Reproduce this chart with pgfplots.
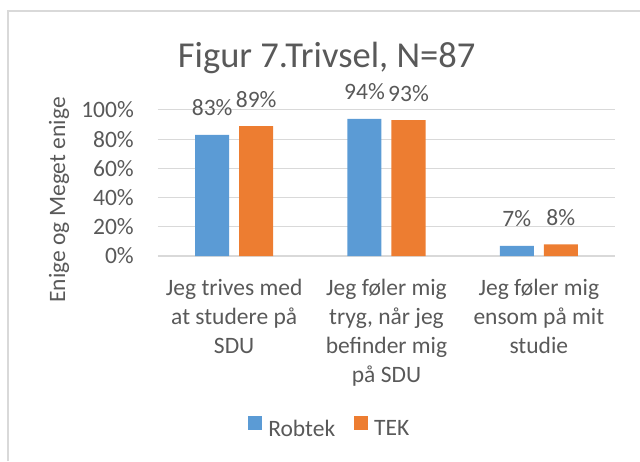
\documentclass[border=0pt]{standalone}
\usepackage{fontspec}
\setmainfont{Carlito}
\usepackage{pgfplots}
\pgfplotsset{compat=1.18}
\definecolor{robtek}{HTML}{5B9BD5}
\definecolor{tek}{HTML}{ED7D31}
\definecolor{txt}{HTML}{595959}
\definecolor{grd}{HTML}{D9D9D9}

\begin{document}
\begin{tikzpicture}
\begin{axis}[
    width=457pt,
    height=146pt,
    scale only axis,
    ybar=10pt,
    bar width=34pt,
    xmin=-0.5, xmax=2.5,
    ymin=0, ymax=100,
    xtick={0,1,2},
    xticklabels={
        {Jeg trives med\\at studere på\\SDU},
        {Jeg føler mig\\tryg, når jeg\\befinder mig\\på SDU},
        {Jeg føler mig\\ensom på mit\\studie}
    },
    ytick={0,20,40,60,80,100},
    yticklabel={\pgfmathprintnumber{\tick}\%},
    /pgf/number format/assume math mode=true,
    /pgf/number format/fixed,
    /pgf/number format/precision=0,
    ymajorgrids,
    grid style={draw=grd, line width=1pt},
    axis x line*=bottom,
    axis y line*=left,
    x axis line style={draw=grd, line width=1.5pt},
    y axis line style={draw=none},
    major tick style={draw=none},
    major tick length=0pt,
    yticklabel style={font=\fontsize{23.5}{28}\selectfont, text=txt, inner sep=0pt, xshift=-24pt},
    xticklabel style={font=\fontsize{23.5}{29}\selectfont, text=txt, align=center, inner sep=0pt, anchor=north, yshift=-23pt},
    nodes near coords={\pgfmathprintnumber{\pgfplotspointmeta}\%},
    every node near coord/.append style={font=\fontsize{23.5}{28}\selectfont, text=txt, anchor=base, inner sep=0pt, yshift=19pt},
    legend columns=2,
    legend image code/.code={\fill[#1] (0pt,-0.5pt) rectangle (14pt,13pt);},
    legend style={
        draw=none,
        fill=none,
        at={(axis description cs:0.376,-1.178)},
        anchor=center,
        font=\fontsize{23.5}{28}\selectfont,
        text=txt,
        /tikz/every odd column/.append style={column sep=4pt},
        /tikz/every even column/.append style={column sep=17pt},
    },
    clip=false,
]
    \addplot[draw=none, fill=robtek] coordinates {(0,83) (1,94) (2,7)};
    \addlegendentry{Robtek}
    \addplot[draw=none, fill=tek] coordinates {(0,89) (1,93) (2,8)};
    \addlegendentry{TEK}

    \node[anchor=base, font=\fontsize{36.5}{43}\selectfont, text=txt]
        at (axis description cs:0.369,1.2945) {Figur 7.Trivsel, N=87};
    \node[rotate=90, anchor=center, font=\fontsize{23.5}{28}\selectfont, text=txt]
        at (axis description cs:-0.2166,0.384) {Enige og Meget enige};

    \coordinate (bl) at (axis description cs:-0.3457,-1.4041);
    \coordinate (tr) at (axis description cs:1.0547,1.7534);
    \coordinate (fb) at (axis description cs:-0.3282,-1.4041);
    \coordinate (ft) at (axis description cs:-0.3282,1.678);
    \coordinate (fr) at (axis description cs:1.0547,1.678);
\end{axis}
\draw[grd, line width=1.5pt] (fb) -- (ft) -- (fr);
\pgfresetboundingbox
\path[use as bounding box] (bl) rectangle (tr);
\end{tikzpicture}
\end{document}
